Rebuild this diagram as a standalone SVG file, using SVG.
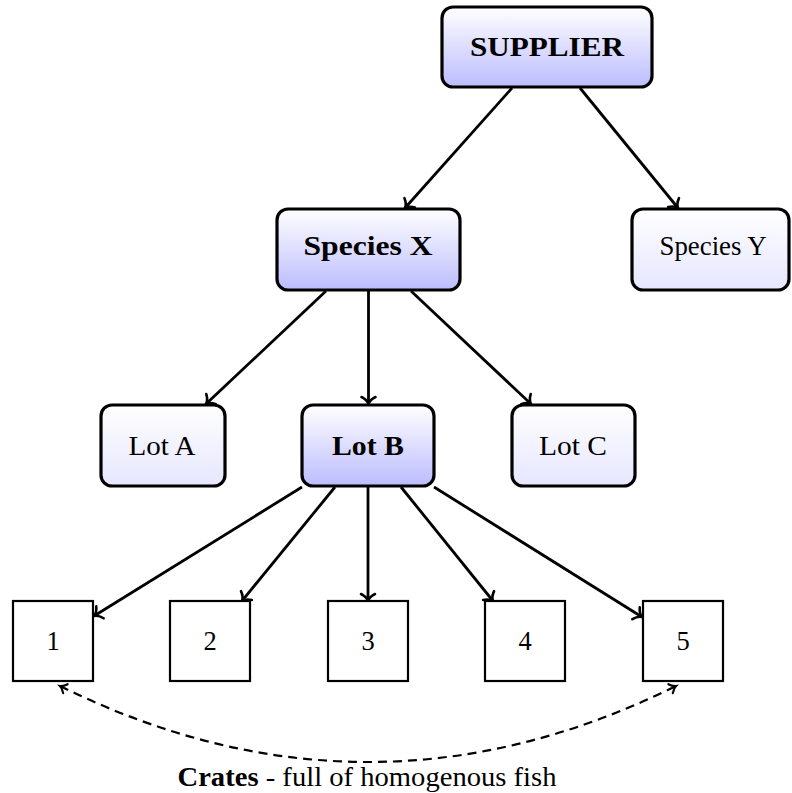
<svg xmlns="http://www.w3.org/2000/svg" width="792" height="793" viewBox="0 0 792 793">
<style>
.bold-node{fill:url(#gBold);stroke:#000;stroke-width:3.2}
.light-node{fill:url(#gLight);stroke:#000;stroke-width:3.2}
.crate{fill:#fff;stroke:#000;stroke-width:2.2}
.lbl{font-family:"Liberation Serif","Times New Roman",serif;font-size:26.5px;fill:#000;text-anchor:middle}
.b{font-weight:bold}
.edge{stroke:#000;stroke-width:2.8;fill:none;marker-end:url(#arr)}
.dash{stroke:#000;stroke-width:2.2;fill:none;stroke-dasharray:9 6;marker-start:url(#arr2);marker-end:url(#arr2)}
</style>
<defs>
<linearGradient id="gBold" x1="0" y1="0" x2="0" y2="1">
<stop offset="0" stop-color="#ffffff"/>
<stop offset="1" stop-color="#bcbcff"/>
</linearGradient>
<linearGradient id="gLight" x1="0" y1="0" x2="0" y2="1">
<stop offset="0" stop-color="#ffffff"/>
<stop offset="1" stop-color="#e6e6ff"/>
</linearGradient>
<marker id="arr" markerUnits="userSpaceOnUse" markerWidth="16" markerHeight="16" viewBox="-8 -8 16 16" refX="0" refY="0" orient="auto" overflow="visible">
<path d="M-7,-7 C-5,-3 -2.5,-0.8 0,0 C-2.5,0.8 -5,3 -7,7" fill="none" stroke="#000" stroke-width="2.6" stroke-linecap="round"/>
</marker>
<marker id="arr2" markerUnits="userSpaceOnUse" markerWidth="16" markerHeight="16" viewBox="-8 -8 16 16" refX="0" refY="0" orient="auto-start-reverse" overflow="visible">
<path d="M-6,-5 C-4,-2.2 -1.8,-0.6 0,0 C-1.8,0.6 -4,2.2 -6,5" fill="none" stroke="#000" stroke-width="2.2" stroke-linecap="round"/>
</marker>
</defs>
<rect width="792" height="793" fill="#fff"/>
<g id="connectors">
<line class="edge" x1="512" y1="88" x2="405" y2="208"/>
<line class="edge" x1="580" y1="88" x2="678" y2="208"/>
<line class="edge" x1="326" y1="291" x2="206" y2="404"/>
<line class="edge" x1="368.5" y1="291" x2="368.5" y2="404"/>
<line class="edge" x1="411" y1="291" x2="531" y2="404"/>
<line class="edge" x1="302" y1="487" x2="94" y2="616"/>
<line class="edge" x1="335" y1="487" x2="242" y2="601"/>
<line class="edge" x1="368" y1="487" x2="368" y2="601"/>
<line class="edge" x1="401" y1="487" x2="493" y2="601"/>
<line class="edge" x1="434" y1="487" x2="642" y2="617"/>
<path class="dash" d="M60,686 Q368,838 676,686"/>
</g>
<g id="supplier">
<rect class="bold-node" x="442" y="7" width="210" height="80" rx="11"/>
<text class="lbl b" x="547" y="56" textLength="154" lengthAdjust="spacingAndGlyphs">SUPPLIER</text>
</g>
<g id="species-x">
<rect class="bold-node" x="277" y="209" width="183" height="81" rx="11"/>
<text class="lbl b" x="368" y="255" textLength="129" lengthAdjust="spacingAndGlyphs">Species X</text>
</g>
<g id="species-y">
<rect class="light-node" x="632" y="209" width="157" height="81" rx="11"/>
<text class="lbl" x="713" y="255" textLength="107" lengthAdjust="spacingAndGlyphs">Species Y</text>
</g>
<g id="lot-a">
<rect class="light-node" x="101" y="405" width="124" height="81" rx="11"/>
<text class="lbl" x="162" y="455" textLength="67" lengthAdjust="spacingAndGlyphs">Lot A</text>
</g>
<g id="lot-b">
<rect class="bold-node" x="302" y="405" width="132" height="81" rx="11"/>
<text class="lbl b" x="368" y="455" textLength="72" lengthAdjust="spacingAndGlyphs">Lot B</text>
</g>
<g id="lot-c">
<rect class="light-node" x="512" y="405" width="123" height="81" rx="11"/>
<text class="lbl" x="573" y="455" textLength="68" lengthAdjust="spacingAndGlyphs">Lot C</text>
</g>
<g id="crate-1">
<rect class="crate" x="13" y="601" width="80" height="80"/>
<text class="lbl" x="53" y="650">1</text>
</g>
<g id="crate-2">
<rect class="crate" x="170" y="601" width="80" height="80"/>
<text class="lbl" x="210" y="650">2</text>
</g>
<g id="crate-3">
<rect class="crate" x="328" y="601" width="80" height="80"/>
<text class="lbl" x="368" y="650">3</text>
</g>
<g id="crate-4">
<rect class="crate" x="485" y="601" width="80" height="80"/>
<text class="lbl" x="525" y="650">4</text>
</g>
<g id="crate-5">
<rect class="crate" x="643" y="601" width="80" height="80"/>
<text class="lbl" x="683" y="650">5</text>
</g>
<g id="caption">
<text class="lbl" x="367" y="786" textLength="379" lengthAdjust="spacingAndGlyphs"><tspan class="b">Crates</tspan> - full of homogenous fish</text>
</g>
</svg>
